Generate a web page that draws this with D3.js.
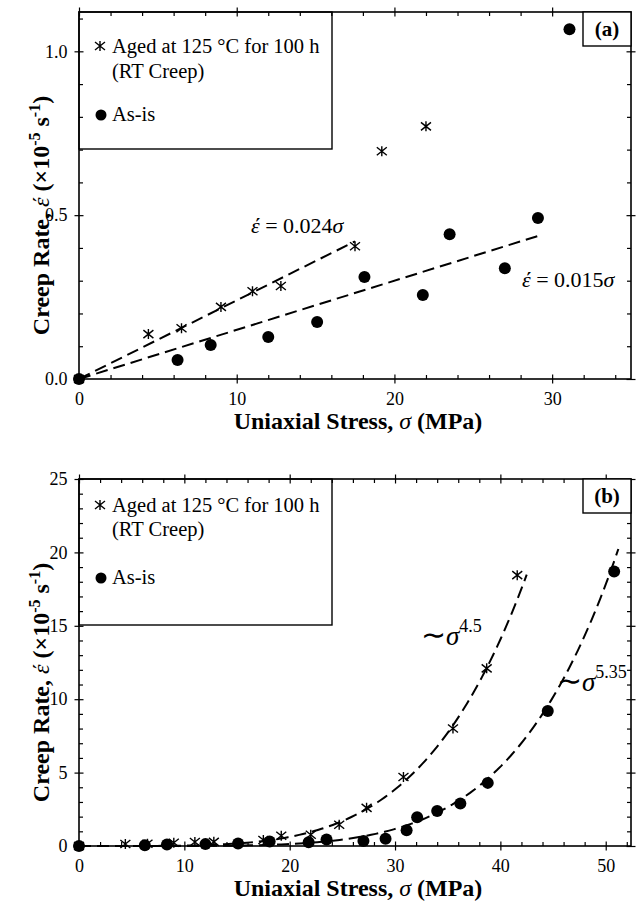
<!DOCTYPE html>
<html>
<head>
<meta charset="UTF-8">
<script src="https://d3js.org/d3.v7.min.js"></script>
<style>
  body { margin: 0; background: #fff; }
  svg { font-family: 'Liberation Serif', 'Times New Roman', serif; }
  .axis path { stroke: #000; stroke-width: 1.5; }
  .axis line { stroke: #000; stroke-width: 1.2; }
  .axis text { font-size: 18px; fill: #000; font-family: 'Liberation Serif', serif; }
  .fit { fill: none; stroke: #000; stroke-width: 2; stroke-dasharray: 12 6; }
</style>
</head>
<body>
<div id="chart"></div>
<script>
// stress (MPa) and creep rate (x10^-5 1/s)
var agedStress = [0, 4.4, 6.5, 9.0, 11.0, 12.8, 17.5, 19.2, 22.0, 24.7, 27.3, 30.8, 35.5, 38.7, 41.6];
var agedRate   = [0, 0.137, 0.155, 0.22, 0.268, 0.284, 0.405, 0.695, 0.771, 1.45, 2.6, 4.7, 8.0, 12.1, 18.45];

var asIsStress = [0, 6.25, 8.35, 12.0, 15.1, 18.1, 21.8, 23.5, 27.0, 29.1, 31.1, 32.1, 34.0, 36.2, 38.8, 44.5, 50.8];
var asIsRate   = [0, 0.058, 0.104, 0.128, 0.174, 0.311, 0.256, 0.442, 0.338, 0.491, 1.067, 1.96, 2.39, 2.9, 4.3, 9.2, 18.7];

// fits shown on the chart
var linearSlopes = [0.024, 0.015];
var linearEnds   = [17.5, 29.1];
var powerCoefs   = [8.69e-7, 1.45e-8];
var powerExps    = [4.5, 5.35];
var powerEnds    = [42.5, 51.2];

var legendLabels = ["Aged at 125 °C for 100 h", "(RT Creep)", "As-is"];
var panelTags = ["(a)", "(b)"];

var width = 638, height = 902;
var margin = {left: 79, right: 7};

var svg = d3.select("#chart").append("svg")
  .attr("width", width)
  .attr("height", height);

function asterisk(g, x, y, s) {
  g.append("path")
    .attr("d", `M${x-s},${y-s*0.8}L${x+s},${y+s*0.8}M${x-s},${y+s*0.8}L${x+s},${y-s*0.8}M${x},${y-s}L${x},${y+s}`)
    .attr("stroke", "#000")
    .attr("stroke-width", 1.4)
    .attr("fill", "none");
}

function drawPanel(p) {
  var g = svg.append("g");
  var x = d3.scaleLinear().domain([0, p.xMax]).range([margin.left, width - margin.right]);
  var y = d3.scaleLinear().domain([0, p.yMax]).range([p.bottom, p.top]);

  var xMajor = d3.range(0, p.xMax + 1e-9, 10);
  var xMinor = d3.range(0, p.xMax + 1e-9, 2).filter(v => Math.abs(v % 10) > 1e-6);
  var yMajor = d3.range(0, p.yMax + 1e-9, p.yStep);
  var yMinor = d3.range(0, p.yMax + 1e-9, p.yMinorStep).filter(v => Math.abs(v / p.yStep - Math.round(v / p.yStep)) > 1e-6);

  function addAxis(axis, transform, labels) {
    var a = g.append("g").attr("class", "axis").attr("transform", transform).call(axis);
    if (!labels) a.selectAll("text").remove();
    a.select(".domain").remove();
    return a;
  }
  var yb = p.bottom, yt = p.top, xl = margin.left, xr = width - margin.right;

  // bottom axis
  addAxis(d3.axisBottom(x).tickValues(xMajor).tickSize(4.5).tickPadding(5).tickFormat(d3.format("d")), `translate(0,${yb})`, true)
    .selectAll("text").attr("dy", "0.9em");
  addAxis(d3.axisBottom(x).tickValues(xMajor).tickSize(-4.5), `translate(0,${yb})`, false);
  addAxis(d3.axisBottom(x).tickValues(xMinor).tickSize(-4), `translate(0,${yb})`, false);
  // top axis
  addAxis(d3.axisTop(x).tickValues(xMajor).tickSize(4.5), `translate(0,${yt})`, false);
  addAxis(d3.axisTop(x).tickValues(xMajor).tickSize(-4.5), `translate(0,${yt})`, false);
  addAxis(d3.axisTop(x).tickValues(xMinor).tickSize(-4), `translate(0,${yt})`, false);
  // left axis
  addAxis(d3.axisLeft(y).tickValues(yMajor).tickSize(4.5).tickPadding(7).tickFormat(p.yFormat), `translate(${xl},0)`, true);
  addAxis(d3.axisLeft(y).tickValues(yMajor).tickSize(-4.5), `translate(${xl},0)`, false);
  addAxis(d3.axisLeft(y).tickValues(yMinor).tickSize(-4), `translate(${xl},0)`, false);
  // right axis
  addAxis(d3.axisRight(y).tickValues(yMajor).tickSize(4.5), `translate(${xr},0)`, false);
  addAxis(d3.axisRight(y).tickValues(yMajor).tickSize(-4.5), `translate(${xr},0)`, false);
  addAxis(d3.axisRight(y).tickValues(yMinor).tickSize(-4), `translate(${xr},0)`, false);

  // frame
  g.append("rect")
    .attr("x", xl).attr("y", yt)
    .attr("width", xr - xl).attr("height", yb - yt)
    .attr("fill", "none").attr("stroke", "#000").attr("stroke-width", 1.6);

  // legend box
  g.append("rect")
    .attr("x", xl).attr("y", yt)
    .attr("width", 253).attr("height", p.legendH)
    .attr("fill", "none").attr("stroke", "#000").attr("stroke-width", 1.4);
  asterisk(g, xl + 21, yt + p.leg[0] - 7, 5);
  g.append("text").attr("x", xl + 33).attr("y", yt + p.leg[0]).attr("font-size", 20.5).text(legendLabels[0]);
  g.append("text").attr("x", xl + 33).attr("y", yt + p.leg[1]).attr("font-size", 20.5).text(legendLabels[1]);
  g.append("circle").attr("cx", xl + 22).attr("cy", yt + p.leg[2] - 6).attr("r", 5.5).attr("fill", "#000");
  g.append("text").attr("x", xl + 33).attr("y", yt + p.leg[2]).attr("font-size", 20.5).text(legendLabels[2]);

  // panel tag
  g.append("rect")
    .attr("x", xr - 48).attr("y", yt)
    .attr("width", 48).attr("height", p.tagH)
    .attr("fill", "#fff").attr("stroke", "#000").attr("stroke-width", 1.4);
  g.append("text").attr("x", xr - 24).attr("y", yt + p.tagH / 2 + 7)
    .attr("text-anchor", "middle").attr("font-size", 21).attr("font-weight", "bold")
    .text(panelTags[p.index]);

  // fits
  var line = d3.line().x(d => x(d[0])).y(d => y(d[1]));
  p.fits.forEach(function(f) {
    g.append("path").attr("class", "fit").attr("d", line(f));
  });

  // markers
  agedStress.forEach(function(s, i) {
    if (s <= p.xMax && agedRate[i] <= p.yMax) asterisk(g, x(s), y(agedRate[i]), 5);
  });
  asIsStress.forEach(function(s, i) {
    if (s <= p.xMax && asIsRate[i] <= p.yMax)
      g.append("circle").attr("cx", x(s)).attr("cy", y(asIsRate[i])).attr("r", 6).attr("fill", "#000");
  });

  // axis titles
  var xt = g.append("text")
    .attr("x", (xl + xr) / 2 + 3).attr("y", yb + 50)
    .attr("text-anchor", "middle").attr("font-size", 24).attr("font-weight", "bold");
  xt.append("tspan").text("Uniaxial Stress, ");
  xt.append("tspan").attr("font-style", "italic").attr("font-weight", "normal").text("σ");
  xt.append("tspan").text(" (MPa)");

  var yl = g.append("text")
    .attr("transform", `translate(49,${(yt + yb) / 2 + 20}) rotate(-90)`)
    .attr("text-anchor", "middle").attr("font-size", 24).attr("font-weight", "bold");
  yl.append("tspan").text("Creep Rate, ");
  yl.append("tspan").attr("font-style", "italic").attr("font-weight", "normal").text("έ");
  yl.append("tspan").text(" (×10");
  yl.append("tspan").attr("dy", -9).attr("font-size", 16).text("-5");
  yl.append("tspan").attr("dy", 9).text(" s");
  yl.append("tspan").attr("dy", -9).attr("font-size", 16).text("-1");
  yl.append("tspan").attr("dy", 9).text(")");

  return {g: g, x: x, y: y};
}

// panel (a): linear fits
var fitsA = linearSlopes.map((k, i) => [[0, 0], [linearEnds[i], k * linearEnds[i]]]);
var a = drawPanel({index: 0, top: 12, bottom: 379, xMax: 35, yMax: 1.12, yStep: 0.5, yMinorStep: 0.1,
  yFormat: d3.format(".1f"), legendH: 137, leg: [41, 66, 109], tagH: 34, fits: fitsA});

function eqText(g, px, py, value) {
  var t = g.append("text").attr("x", px).attr("y", py).attr("font-size", 22);
  t.append("tspan").attr("font-style", "italic").text("έ");
  t.append("tspan").text(" = " + value);
  t.append("tspan").attr("font-style", "italic").text("σ");
}
eqText(a.g, 251, 233, "0.024");
eqText(a.g, 522, 287, "0.015");

// panel (b): power-law fits
var fitsB = powerCoefs.map((c, i) => d3.range(0, powerEnds[i] + 1e-9, powerEnds[i] / 120).map(s => [s, c * Math.pow(s, powerExps[i])]));
var b = drawPanel({index: 1, top: 479, bottom: 846, xMax: 52.4, yMax: 25, yStep: 5, yMinorStep: 1,
  yFormat: d3.format("d"), legendH: 146, leg: [33, 57, 105], tagH: 34, fits: fitsB});

function powText(g, px, py, expo) {
  var t = g.append("text").attr("x", px).attr("y", py).attr("font-size", 27);
  t.append("tspan").attr("font-size", 30).text("∼");
  t.append("tspan").attr("font-style", "italic").text("σ");
  t.append("tspan").attr("dy", -13).attr("font-size", 18).text(expo);
}
powText(b.g, 421, 645, "4.5");
powText(b.g, 557, 691, "5.35");
</script>
</body>
</html>
